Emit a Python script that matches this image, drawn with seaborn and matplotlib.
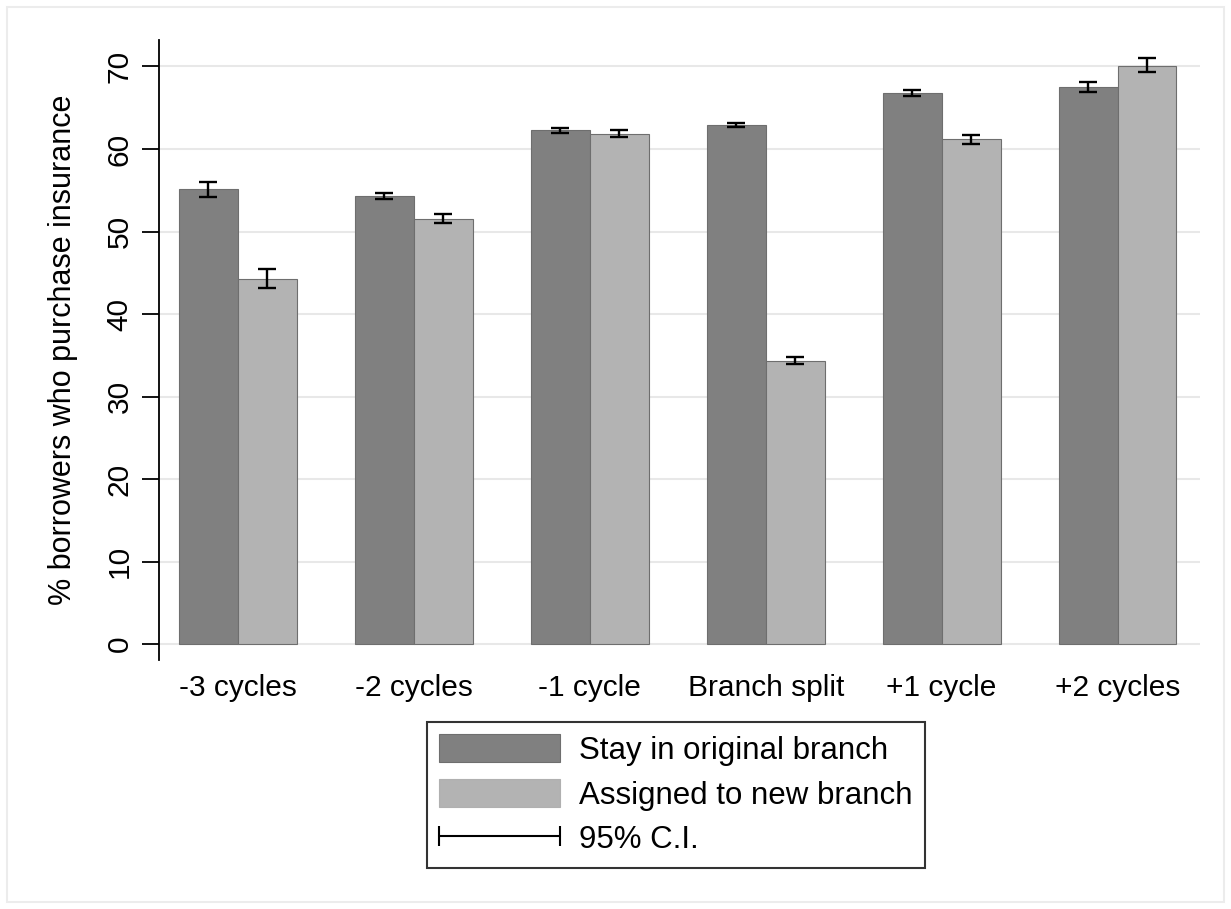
import numpy as np
import pandas as pd
import seaborn as sns
import matplotlib.pyplot as plt
import matplotlib.patches as patches
from matplotlib.lines import Line2D
from matplotlib.legend_handler import HandlerLine2D

periods = ["-3 cycles", "-2 cycles", "-1 cycle", "Branch split", "+1 cycle", "+2 cycles"]
groups = ["Stay in original branch", "Assigned to new branch"]

stay_mean = [55.1, 54.3, 62.25, 62.86, 66.8, 67.5]
stay_lo = [54.2, 53.9, 61.95, 62.6, 66.45, 66.9]
stay_hi = [56.0, 54.7, 62.55, 63.14, 67.1, 68.1]

new_mean = [44.3, 51.55, 61.85, 34.36, 61.2, 70.1]
new_lo = [43.2, 51.0, 61.45, 33.9, 60.65, 69.3]
new_hi = [45.45, 52.1, 62.25, 34.8, 61.65, 71.0]

colors = ["#808080", "#b3b3b3"]

df = pd.DataFrame({
    "period": periods * 2,
    "group": [groups[0]] * len(periods) + [groups[1]] * len(periods),
    "pct": stay_mean + new_mean,
})

sns.set_style("white")
plt.rcParams["font.family"] = ["Liberation Sans", "DejaVu Sans"]
plt.rcParams.update({"text.color": "black", "axes.labelcolor": "black",
                     "xtick.color": "black", "ytick.color": "black"})

fig = plt.figure(figsize=(12.31, 9.09), dpi=100)
ax = fig.add_axes([0.129, 0.274, 0.846, 0.682])

sns.barplot(data=df, x="period", y="pct", hue="group", order=periods,
            hue_order=groups, palette=colors, width=0.67, errorbar=None,
            saturation=1, edgecolor="#6e6e6e", linewidth=0.8, legend=False, ax=ax)

# Confidence intervals
for cont, mean, lo, hi in zip(ax.containers, [stay_mean, new_mean],
                              [stay_lo, new_lo], [stay_hi, new_hi]):
    xs = [b.get_x() + b.get_width() / 2 for b in cont]
    m = np.array(mean)
    err = np.vstack([m - np.array(lo), np.array(hi) - m])
    ax.errorbar(xs, m, yerr=err, fmt="none", ecolor="black", elinewidth=1.7,
                capsize=6.2, capthick=1.7, zorder=5)

ax.set_ylim(-1.9, 73.2)
ax.set_xlim(-0.45, 5.47)
ax.set_yticks(range(0, 71, 10))
ax.yaxis.grid(True, color="#e8e8e8", linewidth=1.5)
ax.set_axisbelow(True)
ax.tick_params(axis="y", direction="out", length=12, width=1.3, left=True,
               labelsize=21.5, pad=6)
ax.tick_params(axis="x", length=0, labelsize=21.5, pad=10)
for lbl in ax.get_yticklabels():
    lbl.set_rotation(90)
    lbl.set_va("center")
for s in ["top", "right", "bottom"]:
    ax.spines[s].set_visible(False)
ax.spines["left"].set_linewidth(1.3)
ax.spines["left"].set_color("black")
ax.set_xlabel("")
ax.set_ylabel("% borrowers who purchase insurance", fontsize=22, labelpad=20)

ci_line = Line2D([0, 1], [0, 0], color="black", lw=1.5, marker="|", markersize=14,
                 markeredgewidth=1.5)
handles = [patches.Patch(facecolor=colors[0], edgecolor="#6e6e6e", linewidth=0.8),
           patches.Patch(facecolor=colors[1], edgecolor="#b0b0b0", linewidth=0.8),
           ci_line]
leg = fig.legend(handles, groups + ["95% C.I.  "], loc="upper center",
                 bbox_to_anchor=(0.549, 0.208 + 14 / 909), fontsize=22.5, numpoints=2,
                 handlelength=3.85, handleheight=1.0, handletextpad=0.62,
                 labelspacing=0.42, borderpad=0.4, frameon=True, fancybox=False,
                 edgecolor="black",
                 handler_map={ci_line: HandlerLine2D(marker_pad=0)})
leg.get_frame().set_linewidth(1.5)

# outer light border
fig.patches.append(patches.Rectangle((0.006, 0.008), 0.988, 0.984, transform=fig.transFigure,
                                     fill=False, edgecolor="#ececec", linewidth=1.5))

fig.savefig("out.png", dpi=100)
